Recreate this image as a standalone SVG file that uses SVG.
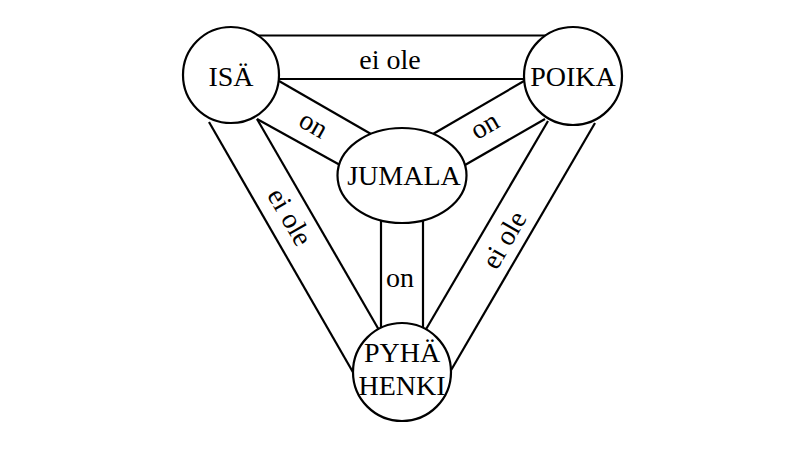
<svg xmlns="http://www.w3.org/2000/svg" width="800" height="450" viewBox="0 0 800 450">
<style>
.l{stroke:#000;stroke-width:2.2;fill:none}
.n{stroke:#000;stroke-width:2.2;fill:#fff}
text{font-family:"Liberation Serif","Times New Roman",serif;font-size:28px;fill:#000;text-anchor:middle}
</style>
<rect width="800" height="450" fill="#fff"/>
<g id="connectors">
<line class="l" x1="255" y1="35.5" x2="547" y2="35.5"/>
<line class="l" x1="279" y1="79" x2="526" y2="79"/>
<line class="l" x1="279" y1="81" x2="371" y2="134"/>
<line class="l" x1="257" y1="119" x2="340" y2="165"/>
<line class="l" x1="524" y1="81" x2="433" y2="134"/>
<line class="l" x1="545" y1="119" x2="465" y2="165"/>
<line class="l" x1="381" y1="215" x2="381" y2="330"/>
<line class="l" x1="423" y1="215" x2="423" y2="330"/>
<line class="l" x1="209" y1="122" x2="354" y2="374"/>
<line class="l" x1="257" y1="119" x2="379" y2="330"/>
<line class="l" x1="595" y1="123" x2="450" y2="372"/>
<line class="l" x1="548" y1="121" x2="425" y2="331"/>
<text x="390" y="69">ei ole</text>
<text transform="translate(312,127) rotate(30)" y="6">on</text>
<text transform="translate(486,128) rotate(-30)" y="6">on</text>
<text x="400" y="287">on</text>
<text transform="translate(288,218) rotate(60)" y="7">ei ole</text>
<text transform="translate(506,241) rotate(-60)" y="7">ei ole</text>
</g>
<g id="isa">
<circle class="n" cx="231" cy="75" r="48"/>
<text x="231" y="86">ISÄ</text>
</g>
<g id="poika">
<circle class="n" cx="573" cy="76" r="49"/>
<text x="573" y="86">POIKA</text>
</g>
<g id="jumala">
<ellipse class="n" cx="402" cy="175.5" rx="64.5" ry="47.5"/>
<text x="404" y="185">JUMALA</text>
</g>
<g id="pyha-henki">
<circle class="n" cx="402" cy="372" r="49"/>
<text x="402" y="362">PYHÄ</text>
<text x="402" y="395">HENKI</text>
</g>
</svg>
